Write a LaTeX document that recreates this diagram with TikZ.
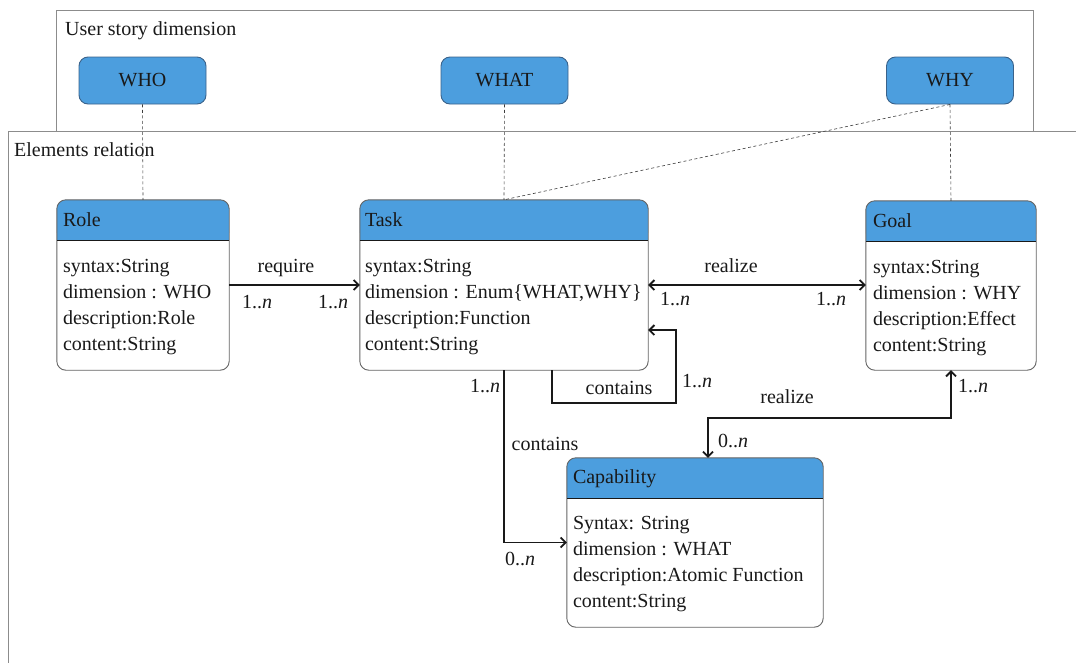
\documentclass[tikz,border=0pt]{standalone}
\usepackage{fontspec}
\setmainfont{Liberation Serif}
\usetikzlibrary{arrows.meta}

\definecolor{hdrblue}{RGB}{76,158,222}
\definecolor{dimborder}{RGB}{58,98,138}
\definecolor{framegray}{RGB}{140,140,140}
\definecolor{boxline}{RGB}{100,100,100}
\definecolor{ink}{RGB}{25,25,25}

% class box: name, centre, width, height
\newcommand\umlclass[4]{%
  \node[classbox, minimum width=#3, minimum height=#4] (#1) at #2 {};
  \fill[hdrblue, rounded corners=9pt] (#1.north west) rectangle ([yshift=-41pt]#1.north east);
  \fill[hdrblue] ([yshift=-20pt]#1.north west) rectangle ([yshift=-41pt]#1.north east);
  \draw[boxline, line width=0.9pt, rounded corners=9pt] (#1.north west) rectangle (#1.south east);
  \draw[ink, line width=1pt] ([yshift=-41pt]#1.north west) -- ([yshift=-41pt]#1.north east);
}

\begin{document}
\begin{tikzpicture}[x=1pt, y=-1pt,
  font=\fontsize{20}{26}\selectfont,
  >={Straight Barb[length=5pt,width=10pt]},
  dimbox/.style={draw=dimborder, fill=hdrblue, rounded corners=9pt, line width=0.9pt,
    minimum width=127pt, minimum height=47pt, inner sep=0pt, text=ink},
  classbox/.style={fill=white, inner sep=0pt},
  classtitle/.style={anchor=base west, inner sep=0pt, text=ink},
  attrs/.style={anchor=north west, align=left, inner sep=0pt, text=ink},
  trace/.style={draw=ink!85, dash pattern=on 3pt off 2.5pt, line width=0.6pt},
  conn/.style={draw=ink, line width=1.8pt},
  lbl/.style={anchor=base, inner sep=0pt, text=ink},
  framebox/.style={draw=framegray, line width=0.9pt},
]
\useasboundingbox (0,0) rectangle (1076,662);
\clip (0,0) rectangle (1076,662);

% frames
\draw[framebox] (56,10) rectangle (1033,131);
\draw[framebox] (8,131) rectangle (1100,700);
\node[anchor=base west, inner sep=0pt, text=ink] (usframe) at (65,35) {User story dimension};
\node[anchor=base west, inner sep=0pt, text=ink] (erframe) at (14,156) {Elements relation};

% user story dimensions
\node[dimbox] (who)  at (142.5,80.5) {WHO};
\node[dimbox] (what) at (504.5,80.5) {WHAT};
\node[dimbox] (why)  at (950,80.5)   {WHY};

% classes
\umlclass{role}{(143,285)}{172pt}{170pt}
\umlclass{task}{(504,285)}{288pt}{170pt}
\umlclass{goal}{(951,285.5)}{170pt}{169pt}
\umlclass{cap}{(695,542.5)}{256pt}{169pt}

% dimension traces
\draw[trace] (who.south) -- (role.north);
\draw[trace] (what.south) -- (task.north);
\draw[trace] (why.south) -- (goal.north);
\draw[trace] (why.south) -- (task.north);

% class contents
\node[classtitle] (role-t) at ([xshift=6pt,yshift=-27pt]role.north west) {Role};
\node[attrs] (role-a) at ([xshift=6pt,yshift=-59.5pt]role.north west)
  {syntax:String\\dimension : WHO\\description:Role\\content:String};

\node[classtitle] (task-t) at ([xshift=5pt,yshift=-27pt]task.north west) {Task};
\node[attrs] (task-a) at ([xshift=5pt,yshift=-59.5pt]task.north west)
  {syntax:String\\dimension : Enum\{WHAT,WHY\}\\description:Function\\content:String};

\node[classtitle] (goal-t) at ([xshift=7pt,yshift=-27pt]goal.north west) {Goal};
\node[attrs] (goal-a) at ([xshift=7pt,yshift=-59.5pt]goal.north west)
  {syntax:String\\dimension : WHY\\description:Effect\\content:String};

\node[classtitle] (cap-t) at ([xshift=6pt,yshift=-26pt]cap.north west) {Capability};
\node[attrs] (cap-a) at ([xshift=6pt,yshift=-58.5pt]cap.north west)
  {Syntax: String\\dimension : WHAT\\description:Atomic Function\\content:String};

% relations
\draw[conn,->] (role.east) -- (task.west);
\node[lbl] (req)  at (286,272) {require};
\node[lbl] (req1) at (257,308) {1..\textit{n}};
\node[lbl] (req2) at (333,308) {1..\textit{n}};

\draw[conn,<->] (task.east) -- (goal.west |- task.east);
\node[lbl] (rz)  at (731,272) {realize};
\node[lbl] (rz1) at (675,305) {1..\textit{n}};
\node[lbl] (rz2) at (831,305) {1..\textit{n}};

\draw[conn,->] ([xshift=48pt]task.south) -- ++(0,33) -- ++(124,0) |- ([yshift=-45pt]task.east);
\node[lbl] (self)  at (619,394) {contains};
\node[lbl] (self1) at (697,387) {1..\textit{n}};

\draw[conn,->] (task.south) |- (cap.west);
\node[lbl] (ct)  at (545,450) {contains};
\node[lbl] (ct1) at (485,392) {1..\textit{n}};
\node[lbl] (ct2) at (520,565) {0..\textit{n}};

\draw[conn,<->] (goal.south) -- ++(0,48) -| ([xshift=13pt]cap.north);
\node[lbl] (rc)  at (787,403) {realize};
\node[lbl] (rc1) at (973,392) {1..\textit{n}};
\node[lbl] (rc2) at (733,447) {0..\textit{n}};
\end{tikzpicture}
\end{document}
